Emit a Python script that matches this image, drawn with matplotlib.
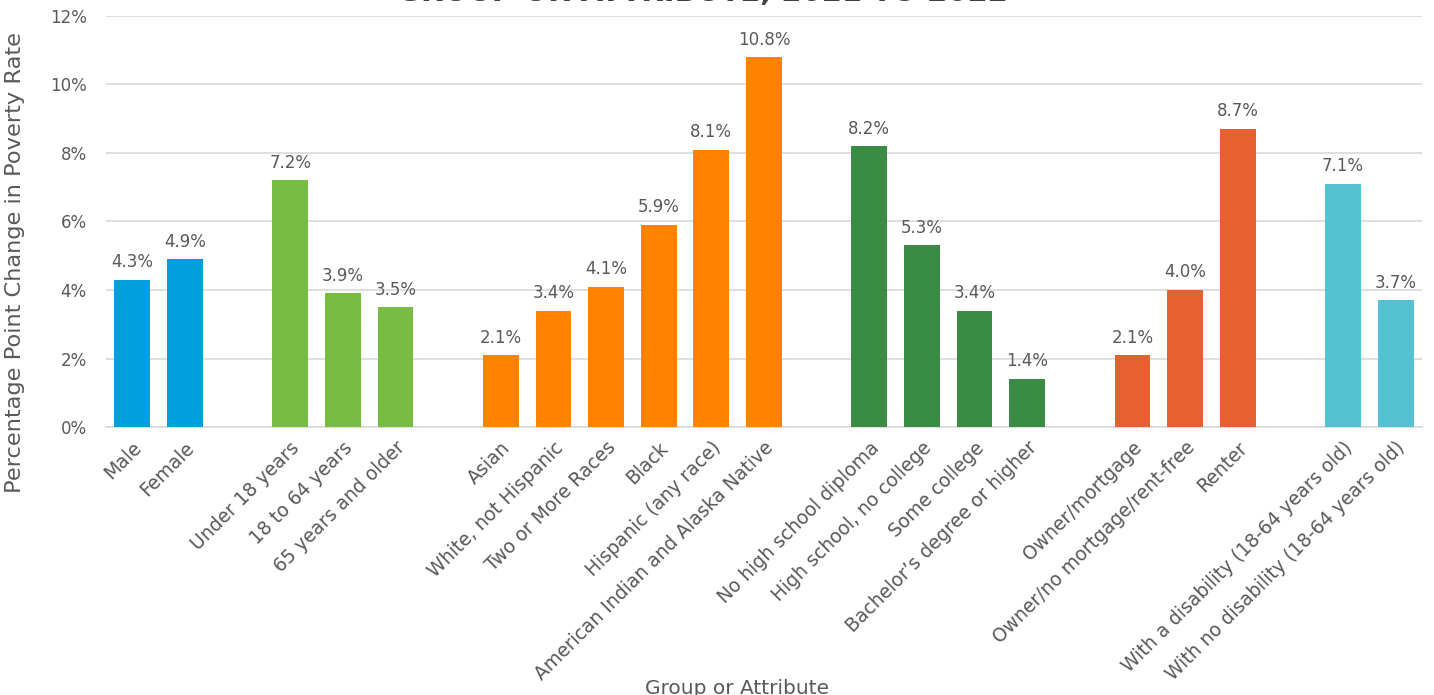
import numpy as np
import matplotlib
matplotlib.use("Agg")
import matplotlib.pyplot as plt

plt.rcParams['font.family'] = ['DejaVu Sans']

# groups of categories, with change in poverty rate (percentage points)
groups = [
    ["Male", "Female"],
    ["Under 18 years", "18 to 64 years", "65 years and older"],
    ["Asian", "White, not Hispanic", "Two or More Races", "Black",
     "Hispanic (any race)", "American Indian and Alaska Native"],
    ["No high school diploma", "High school, no college", "Some college",
     "Bachelor\u2019s degree or higher"],
    ["Owner/mortgage", "Owner/no mortgage/rent-free", "Renter"],
    ["With a disability (18-64 years old)", "With no disability (18-64 years old)"],
]
values = [
    [4.3, 4.9],
    [7.2, 3.9, 3.5],
    [2.1, 3.4, 4.1, 5.9, 8.1, 10.8],
    [8.2, 5.3, 3.4, 1.4],
    [2.1, 4.0, 8.7],
    [7.1, 3.7],
]
colors = ["#009FDF", "#77BC43", "#FF8300", "#3A8B43", "#E76031", "#55C2D3"]

text_col = "#595959"

fig = plt.figure(figsize=(14.34, 6.95), dpi=100)
ax = fig.add_axes([0.0739, 0.3856, 0.9177, 0.5914])

pos = 0
ticks, labels = [], []
for cats, vals, c in zip(groups, values, colors):
    x = np.arange(pos, pos + len(cats))
    bars = ax.bar(x, vals, width=0.68, color=c, zorder=3)
    for b, v in zip(bars, vals):
        ax.text(b.get_x() + b.get_width() / 2, v + 0.25, f"{v:.1f}%",
                ha='center', va='bottom', fontsize=12, color=text_col)
    ticks += list(x)
    labels += cats
    pos += len(cats) + 1

ax.set_xlim(-0.5, pos - 1.5)
ax.set_ylim(0, 12)
ax.set_yticks(np.arange(0, 13, 2))
ax.set_yticklabels([f"{t}%" for t in range(0, 13, 2)])
ax.set_xticks(ticks)
ax.set_xticklabels(labels, rotation=45, ha='right', rotation_mode='anchor')
ax.tick_params(axis='y', length=0, labelsize=12, labelcolor=text_col, pad=14)
ax.tick_params(axis='x', length=0, labelsize=13.5, labelcolor=text_col, pad=8)
ax.grid(axis='y', color='#D9D9D9', linewidth=1.2, zorder=0)
for s in ['top', 'right', 'left']:
    ax.spines[s].set_visible(False)
ax.spines['bottom'].set_color('#D9D9D9')
ax.spines['bottom'].set_linewidth(1.2)

ax.set_ylabel("Percentage Point Change in Poverty Rate", fontsize=16.2,
              color=text_col)
ax.yaxis.set_label_coords(-0.0615, 0.40)
fig.text(0.514, -0.004, "Group or Attribute", ha='center', va='bottom',
         fontsize=14.5, color=text_col)
fig.text(0.49, 0.99, "GROUP OR ATTRIBUTE, 2021 TO 2022", ha='center',
         va='bottom', fontsize=21, fontweight='bold', color='#404040')

fig.savefig("out.png", dpi=100)
